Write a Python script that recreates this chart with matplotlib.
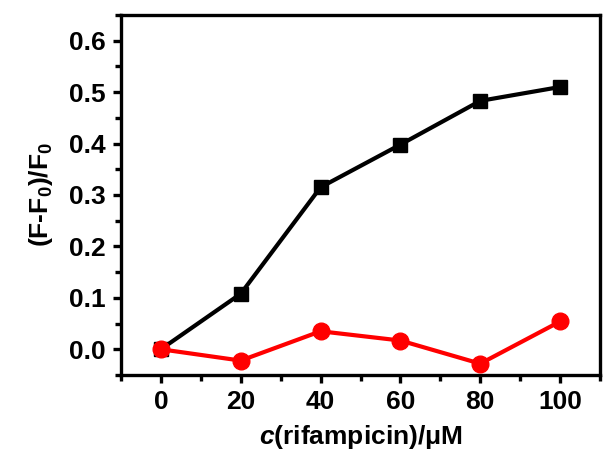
import numpy as np
import matplotlib.pyplot as plt
from matplotlib.ticker import MultipleLocator

plt.rcParams['font.family'] = 'Liberation Sans'
plt.rcParams['font.weight'] = 'bold'
plt.rcParams['mathtext.fontset'] = 'custom'
plt.rcParams['mathtext.rm'] = 'Liberation Sans:bold'
plt.rcParams['mathtext.bf'] = 'Liberation Sans:bold'
plt.rcParams['mathtext.it'] = 'Liberation Sans:italic:bold'

conc = [0, 20, 40, 60, 80, 100]
black_vals = [0.0, 0.108, 0.315, 0.398, 0.483, 0.510]
red_vals = [0.0, -0.022, 0.035, 0.017, -0.028, 0.054]

fig = plt.figure(figsize=(6.03, 4.5), dpi=100)
ax = fig.add_axes([0.2007, 0.1667, 0.7943, 0.8])

ax.plot(conc, black_vals, color='black', lw=3, marker='s', ms=9.5, zorder=2)
ax.plot(conc, red_vals, color='red', lw=3, marker='o', ms=12, zorder=3)

ax.set_xlim(-10, 110)
ax.set_ylim(-0.05, 0.65)
ax.xaxis.set_major_locator(MultipleLocator(20))
ax.xaxis.set_minor_locator(MultipleLocator(10))
ax.yaxis.set_minor_locator(MultipleLocator(0.05))
ax.set_yticks(np.arange(0, 0.61, 0.1))
ax.set_yticklabels([f'{v:.1f}' for v in np.arange(0, 0.61, 0.1)])

for s in ax.spines.values():
    s.set_linewidth(2.4)
ax.tick_params(which='major', direction='out', length=6, width=2.4, labelsize=19, pad=5)
ax.tick_params(which='minor', direction='out', length=4, width=2.4)

ax.set_xlabel(r'$c$(rifampicin)/μM', fontsize=19, fontweight='bold', labelpad=6)
ax.set_ylabel(r'(F-F$_\mathbf{0}$)/F$_\mathbf{0}$', fontsize=19, fontweight='bold', labelpad=10)

fig.savefig('out.png', dpi=100)
